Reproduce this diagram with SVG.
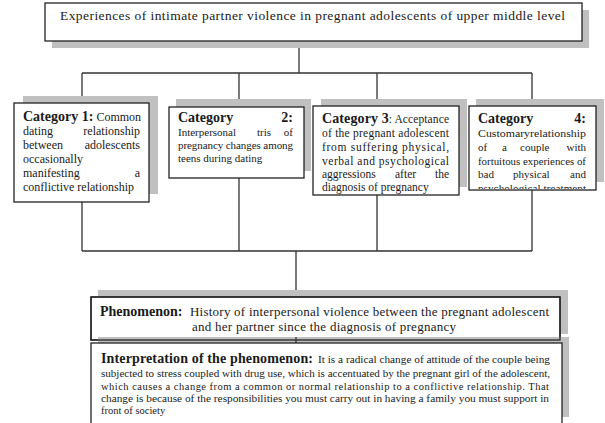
<svg xmlns="http://www.w3.org/2000/svg" width="605" height="423" viewBox="0 0 605 423">
<style>
.sh{fill:#c0c0c0;stroke:none}
.bx{fill:#fff;stroke:#222;stroke-width:1.3}
.ln{fill:none;stroke:#333;stroke-width:1.3}
text{font-family:"Liberation Serif","Times New Roman",serif;fill:#1a1a1a}
.b{font-weight:bold}
.t{font-size:13.5px}
.c1{font-size:12px}
.c2{font-size:11px}
.c3{font-size:11.5px}
.ph{font-size:13px}
.ip{font-size:10.5px}
.hd{font-size:14px;font-weight:bold}
</style>
<defs>
<clipPath id="k3"><rect x="314" y="107" width="144" height="87"/></clipPath>
<clipPath id="k4"><rect x="470" y="107" width="125" height="82"/></clipPath>
</defs>
<rect width="605" height="423" fill="#fff"/>

<g id="connectors">
<path class="ln" d="M299 41V73M82 73H532M82 73V103M239 73V107M377 73V106M532 73V106"/>
<path class="ln" d="M82 202V251M239 178V251M377 195V251M532 190V251M82 251H532M296 251V297"/>
</g>

<g id="top">
<rect class="sh" x="52" y="10" width="537" height="38"/>
<rect class="bx" x="45" y="3" width="537" height="38"/>
<text class="t" x="60" y="20" textLength="505" lengthAdjust="spacing">Experiences of intimate partner violence in pregnant adolescents of upper middle level</text>
</g>

<g id="cat1">
<rect class="sh" x="23" y="96" width="135" height="98"/>
<rect class="bx" x="14" y="103" width="135" height="99"/>
<text class="c1" x="23" y="121"><tspan class="hd">Category 1:</tspan> Common</text>
<text class="c1" x="23" y="135">dating</text><text class="c1" x="140" y="135" text-anchor="end">relationship</text>
<text class="c1" x="23" y="149">between</text><text class="c1" x="140" y="149" text-anchor="end">adolescents</text>
<text class="c1" x="23" y="163">occasionally</text>
<text class="c1" x="23" y="177">manifesting</text><text class="c1" x="140" y="177" text-anchor="end">a</text>
<text class="c1" x="23" y="191">conflictive relationship</text>
</g>

<g id="cat2">
<rect class="sh" x="176" y="99" width="135" height="72"/>
<rect class="bx" x="169" y="107" width="135" height="71"/>
<text class="hd" x="178" y="122">Category</text><text class="hd" x="293" y="122" text-anchor="end">2:</text>
<text class="c2" x="178" y="136">Interpersonal</text><text class="c2" x="257" y="136">tris</text><text class="c2" x="293" y="136" text-anchor="end">of</text>
<text class="c2" x="178" y="149" textLength="115" lengthAdjust="spacing">pregnancy changes among</text>
<text class="c2" x="178" y="162">teens during dating</text>
</g>

<g id="cat3">
<rect class="sh" x="321" y="99" width="146" height="88"/>
<rect class="bx" x="313" y="106" width="146" height="89"/>
<g clip-path="url(#k3)">
<text class="c3" x="322" y="123" textLength="127" lengthAdjust="spacing"><tspan class="hd">Category 3</tspan>: Acceptance</text>
<text class="c3" x="322" y="137" textLength="127" lengthAdjust="spacing">of the pregnant adolescent</text>
<text class="c3" x="322" y="151" textLength="127" lengthAdjust="spacing">from suffering physical,</text>
<text class="c3" x="322" y="165" textLength="127" lengthAdjust="spacing">verbal and psychological</text>
<text class="c3" x="322" y="178">aggressions</text><text class="c3" x="395" y="178">after</text><text class="c3" x="449" y="178" text-anchor="end">the</text>
<text class="c3" x="322" y="191">diagnosis of pregnancy</text>
</g>
</g>

<g id="cat4">
<rect class="sh" x="476" y="99" width="128" height="83"/>
<rect class="bx" x="469" y="106" width="127" height="84"/>
<g clip-path="url(#k4)">
<text class="hd" x="478" y="123">Category</text><text class="hd" x="586" y="123" text-anchor="end">4:</text>
<text class="c2" x="478" y="137" textLength="108" lengthAdjust="spacingAndGlyphs">Customaryrelationship</text>
<text class="c2" x="478" y="151">of</text><text class="c2" x="502" y="151">a</text><text class="c2" x="520" y="151">couple</text><text class="c2" x="586" y="151" text-anchor="end">with</text>
<text class="c2" x="478" y="165" textLength="108" lengthAdjust="spacingAndGlyphs">fortuitous experiences of</text>
<text class="c2" x="478" y="178">bad</text><text class="c2" x="513" y="178">physical</text><text class="c2" x="586" y="178" text-anchor="end">and</text>
<text class="c2" x="478" y="192" textLength="108" lengthAdjust="spacing">psychological treatment</text>
</g>
</g>

<g id="phenomenon">
<rect class="sh" x="98" y="290" width="470" height="44"/>
<rect class="bx" x="91" y="297" width="469" height="43"/>
<text class="hd" x="100" y="316">Phenomenon:</text>
<text class="ph" x="190" y="316" textLength="359" lengthAdjust="spacing">History of interpersonal violence between the pregnant adolescent</text>
<text class="ph" x="192" y="331" textLength="264" lengthAdjust="spacing">and her partner since the diagnosis of pregnancy</text>
</g>

<g id="interpretation">
<rect class="sh" x="98" y="337" width="471" height="80"/>
<rect x="91" y="297" width="469" height="43" fill="none" stroke="#222" stroke-width="1.3"/>
<path class="ln" d="M296 337V343"/>
<rect class="bx" x="91" y="343" width="471" height="84"/>
<text class="hd" x="101" y="363" textLength="212" lengthAdjust="spacing">Interpretation of the phenomenon:</text>
<text class="ip" x="318" y="363" textLength="232" lengthAdjust="spacingAndGlyphs">It is a radical change of attitude of the couple being</text>
<text class="ip" x="101" y="377" textLength="449" lengthAdjust="spacingAndGlyphs">subjected to stress coupled with drug use, which is accentuated by the pregnant girl of the adolescent,</text>
<text class="ip" x="101" y="389.5" textLength="448" lengthAdjust="spacing">which causes a change from a common or normal relationship to a conflictive relationship. That</text>
<text class="ip" x="101" y="402" textLength="448" lengthAdjust="spacingAndGlyphs">change is because of the responsibilities you must carry out in having a family you must support in</text>
<text class="ip" x="101" y="414">front of society</text>
</g>
</svg>
